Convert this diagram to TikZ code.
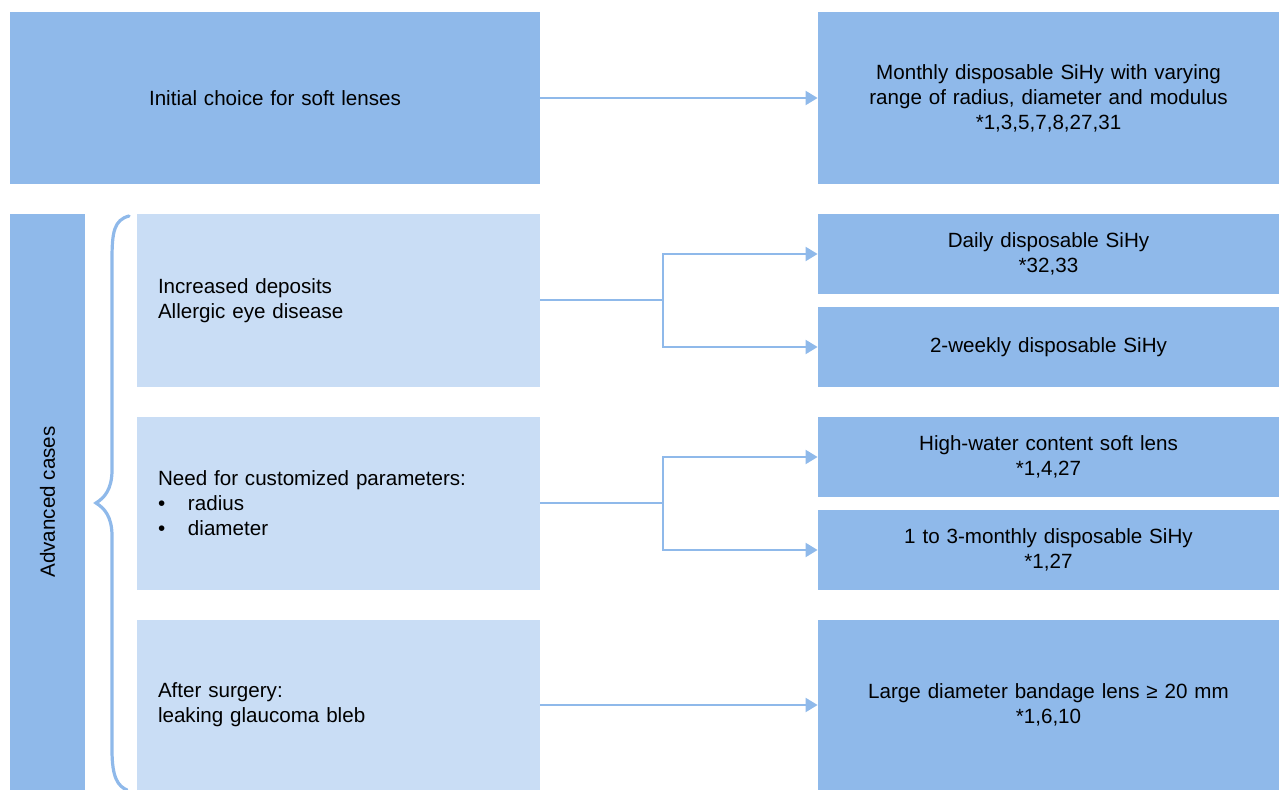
\documentclass[tikz,border=0pt]{standalone}
\usepackage{fontspec}
\setmainfont{Liberation Sans}
\usepackage{tikz}
\usetikzlibrary{arrows.meta}
\definecolor{boxdark}{HTML}{8FB9EA}
\definecolor{boxlight}{HTML}{C9DDF5}
\begin{document}
        \begin{tikzpicture}[x=0.5pt,y=-0.5pt,
                font=\fontsize{10.3}{12.5}\selectfont,
                dark/.style={fill=boxdark,inner sep=0pt,align=center,text width=#1},
                dark/.default=215pt,
                light/.style={fill=boxlight,inner xsep=10.5pt,inner ysep=0pt,align=left,text width=180.5pt,minimum width=201.5pt,minimum height=86.5pt},
                link/.style={draw=boxdark,line width=1pt,-{Triangle[length=6pt,width=7pt]}}]
            \useasboundingbox (0,0) rectangle (1279,790);
            % top row
            \node[dark=265pt,minimum width=265pt,minimum height=86pt] (init) at (275,98) {Initial choice for soft lenses};
            \node[dark,minimum width=230.5pt,minimum height=86pt] (monthly) at (1048.5,98) {Monthly disposable SiHy with varying\\range of radius, diameter and modulus\\{*}1,3,5,7,8,27,31};
            % advanced cases
            \node[fill=boxdark,minimum width=37.5pt,minimum height=288pt,inner sep=0pt] (adv) at (47.5,502) {};
            \node[rotate=90] (advtxt) at (adv.center) {Advanced cases};
            \draw[boxdark,line width=1.6pt,line cap=round] (129,216) .. controls (114,220) and (112,232) .. (112,260) -- (112,470)
                .. controls (112,490) and (104,498) .. (96,503) .. controls (104,508) and (112,516) .. (112,536)
                -- (112,750) .. controls (112,778) and (118,786) .. (127,790);
            \node[light] (deposits) at (338.5,300.5) {Increased deposits\\Allergic eye disease};
            \node[light] (custom) at (338.5,503.5) {Need for customized parameters:\\\makebox[15pt][l]{\textbullet}radius\\\makebox[15pt][l]{\textbullet}diameter};
            \node[light,minimum height=85pt] (surgery) at (338.5,705) {After surgery:\\leaking glaucoma bleb};
            \node[dark,minimum width=230.5pt,minimum height=40pt] (daily) at (1048.5,254) {Daily disposable SiHy\\{*}32,33};
            \node[dark,minimum width=230.5pt,minimum height=40pt] (weekly) at (1048.5,347) {2-weekly disposable SiHy};
            \node[dark,minimum width=230.5pt,minimum height=40pt] (water) at (1048.5,457) {High-water content soft lens\\{*}1,4,27};
            \node[dark,minimum width=230.5pt,minimum height=40pt] (threem) at (1048.5,550) {1 to 3-monthly disposable SiHy\\{*}1,27};
            \node[dark,minimum width=230.5pt,minimum height=85pt] (bandage) at (1048.5,705) {Large diameter bandage lens ≥ 20 mm\\{*}1,6,10};
            % connectors
            \coordinate (splitA) at (663,300.5);
            \coordinate (splitB) at (663,503.5);
            \draw[link] (init) -- (monthly);
            \draw[link] (deposits.east) -- (splitA) |- (daily.west);
            \draw[link] (splitA) |- (weekly.west);
            \draw[link] (custom.east) -- (splitB) |- (water.west);
            \draw[link] (splitB) |- (threem.west);
            \draw[link] (surgery) -- (bandage);
        \end{tikzpicture}
\end{document}
